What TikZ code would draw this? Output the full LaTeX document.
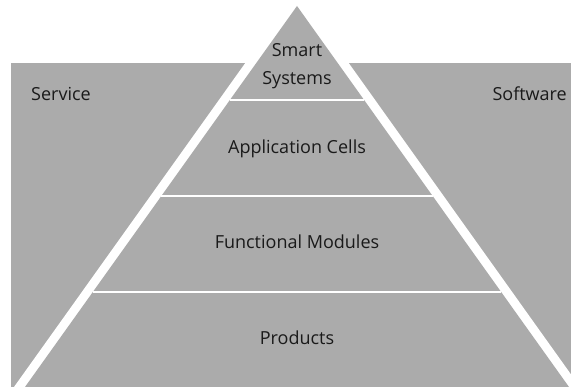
\documentclass[tikz,border=0pt]{standalone}
\usepackage{fontspec}
\setmainfont{Open Sans}
\definecolor{pgray}{HTML}{ABABAB}
\definecolor{ptext}{HTML}{1A1A1A}
\begin{document}
\begin{tikzpicture}[x=1pt,y=-1pt,
  lbl/.style={text=ptext,font=\fontsize{18}{22}\selectfont,inner sep=0pt,anchor=base},
  sep/.style={draw=white,line width=2pt}]
\useasboundingbox (0,0) rectangle (571,387);
% side panels
\fill[pgray] (11,63) rectangle (300,387);
\fill[pgray] (294,63) rectangle (571,387);
% pyramid outline (white) and body (gray)
\fill[white] (297,-9.4) -- (14,387) -- (580,387) -- cycle;
\fill[pgray] (297,6) -- (25,387) -- (569,387) -- cycle;
% tier separators
\coordinate (s1l) at (229.9,100); \coordinate (s1r) at (364.1,100);
\coordinate (s2l) at (161.3,196); \coordinate (s2r) at (432.7,196);
\coordinate (s3l) at (92.8,292);  \coordinate (s3r) at (501.2,292);
\draw[sep] (s1l) -- (s1r);
\draw[sep] (s2l) -- (s2r);
\draw[sep] (s3l) -- (s3r);
% labels
\node[lbl] (smart) at (297,57) {Smart};
\node[lbl] (systems) at (297,84.5) {Systems};
\node[lbl] (app) at (297,153.3) {Application Cells};
\node[lbl] (func) at (297,249) {Functional Modules};
\node[lbl] (prod) at (297,345) {Products};
\node[lbl,anchor=base west] (service) at (31,101) {Service};
\node[lbl,anchor=base east] (software) at (567,101) {Software};
\end{tikzpicture}
\end{document}
